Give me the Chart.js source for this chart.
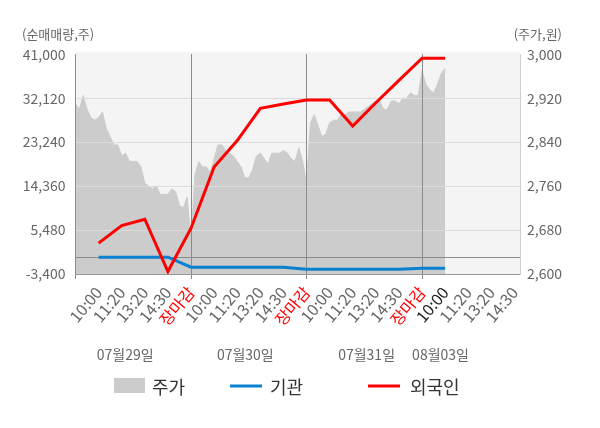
<!DOCTYPE html>
<html><head><meta charset="utf-8">
<script src="https://cdn.jsdelivr.net/npm/chart.js@4/dist/chart.umd.min.js"></script>
<style>html,body{margin:0;padding:0;background:#fff}</style>
</head><body>
<canvas id="c" width="600" height="428"></canvas>
<script>
// ---- data ----
const xTickLabels = ['10:00','11:20','13:20','14:30','장마감','10:00','11:20','13:20','14:30','장마감','10:00','11:20','13:20','14:30','장마감','10:00','11:20','13:20','14:30'];
const dayLabels = ['07월29일','07월30일','07월31일','08월03일'];
const dayLabelSlots = [2.15, 7.35, 12.6, 15.8];
const pricePerSlot = 6;
const priceValues = [
  2910,2900,2925,2900,2885,2880,2885,2895,2865,2850,2835,2835,2815,2820,2805,2805,2805,2795,2765,2760,2755,2760,2745,2745,2745,2755,2750,2725,2720,2740,2660,
  2780,2805,2795,2795,2785,2810,2835,2835,2825,2820,2815,2805,2795,2775,2775,2790,2815,2820,2810,2800,2820,2820,2820,2825,2820,2810,2805,2830,2805,2765,
  2875,2890,2870,2850,2855,2875,2880,2880,2890,2890,2895,2895,2895,2895,2900,2905,2910,2915,2915,2900,2900,2915,2915,2910,2920,2920,2930,2925,2925,
  2970,2945,2935,2930,2945,2965,2975
];
const institutionValues = [0,0,0,0,-2020,-2020,-2020,-2020,-2020,-2420,-2420,-2420,-2420,-2420,-2220,-2220];
const foreignValues = [2830,6380,7670,-2910,5850,18220,23570,30070,30940,31740,31740,26500,31200,35720,40220,40220];
const leftTicks = [-3400,5480,14360,23240,32120,41000];
const rightTicks = [2600,2680,2760,2840,2920,3000];
const legendLabels = ['주가','기관','외국인'];

const FONT = '"Noto Sans CJK KR", "Noto Sans", sans-serif';
Chart.defaults.font.family = FONT;
const GRAY = '#cccccc', BLUE = '#0a80d0', RED = '#ff0000', TXT = '#666666';
const XMAX = 19.24;

const decor = {
  id: 'decor',
  beforeDraw(chart) {
    const {ctx, chartArea: a} = chart;
    ctx.save();
    ctx.fillStyle = '#f4f4f4';
    ctx.fillRect(a.left, a.top - 2.5, a.right - a.left, a.bottom - a.top + 2.5);
    ctx.restore();
  },
  afterDatasetDraw(chart, args) {
    if (args.index === 0) {
      chart.scales.y.drawGrid(chart.chartArea);
      chart.scales.x.drawGrid(chart.chartArea);
    }
  },
  afterDraw(chart) {
    const ctx = chart.ctx;
    ctx.save();
    ctx.font = '13px ' + FONT;
    ctx.fillStyle = TXT;
    ctx.textBaseline = 'middle';
    ctx.textAlign = 'left';
    ctx.fillText('(순매매량,주)', 22, 34);
    ctx.textAlign = 'right';
    ctx.fillText('(주가,원)', 562, 34);
    // legend
    ctx.font = '18px ' + FONT;
    ctx.textAlign = 'left';
    ctx.fillStyle = GRAY;
    ctx.fillRect(114, 378, 31, 15);
    ctx.lineWidth = 3;
    ctx.strokeStyle = BLUE;
    ctx.beginPath(); ctx.moveTo(230, 386); ctx.lineTo(262, 386); ctx.stroke();
    ctx.strokeStyle = RED;
    ctx.beginPath(); ctx.moveTo(368, 386); ctx.lineTo(400, 386); ctx.stroke();
    ctx.fillStyle = '#333';
    ctx.fillText(legendLabels[0], 152, 387);
    ctx.fillText(legendLabels[1], 270, 387);
    ctx.fillText(legendLabels[2], 410, 387);
    ctx.restore();
  }
};

const sepColor = (c) => (c.tick && c.tick.value % 5 === 0) ? '#8c8c8c' : 'rgba(0,0,0,0)';

new Chart(document.getElementById('c'), {
  type: 'line',
  data: {
    datasets: [
      { label: legendLabels[0], data: priceValues.map((v, i) => ({x: i / pricePerSlot, y: v})),
        xAxisID: 'x', yAxisID: 'y2', fill: 'start', backgroundColor: GRAY, borderColor: GRAY,
        borderWidth: 1, pointRadius: 0, tension: 0, order: 3 },
      { label: legendLabels[1], data: institutionValues.map((v, i) => ({x: i + 1, y: v})),
        xAxisID: 'x', yAxisID: 'y', borderColor: BLUE, borderWidth: 3, pointRadius: 0, fill: false, order: 2 },
      { label: legendLabels[2], data: foreignValues.map((v, i) => ({x: i + 1, y: v})),
        xAxisID: 'x', yAxisID: 'y', borderColor: RED, borderWidth: 3, pointRadius: 0, fill: false, order: 1 }
    ]
  },
  options: {
    responsive: false,
    animation: false,
    devicePixelRatio: 1,
    layout: {padding: {top: 54.3, left: 0, right: 0, bottom: 52}},
    plugins: {legend: {display: false}, tooltip: {enabled: false}},
    scales: {
      x: {
        type: 'linear', position: 'bottom', min: 0, max: XMAX,
        afterBuildTicks: s => { s.ticks = [{value: 0}].concat(xTickLabels.map((_, i) => ({value: i + 1}))); },
        afterFit: s => { s.height = 72; s.paddingLeft = 0; s.paddingRight = 0; },
        grid: {color: sepColor, tickColor: sepColor, tickLength: 5, lineWidth: 1},
        border: {color: '#999'},
        ticks: {
          autoSkip: false, minRotation: 50, maxRotation: 50, padding: 4,
          font: {size: 16},
          color: c => {
            const l = xTickLabels[c.tick.value - 1];
            if (l === '장마감') return RED;
            if (c.tick.value === 16) return '#222';
            return TXT;
          },
          callback: v => v >= 1 ? xTickLabels[v - 1] : ''
        }
      },
      xDay: {
        type: 'linear', position: 'bottom', min: 0, max: XMAX,
        afterBuildTicks: s => { s.ticks = dayLabelSlots.map(v => ({value: v})); },
        afterFit: s => { s.height = 30; s.paddingLeft = 0; s.paddingRight = 0; },
        grid: {display: false, drawTicks: false},
        border: {display: false},
        ticks: {autoSkip: false, minRotation: 0, maxRotation: 0, padding: 0, font: {size: 14}, color: TXT,
          callback: (v, i) => dayLabels[i]}
      },
      y: {
        type: 'linear', position: 'left', min: -3400, max: 41000,
        afterBuildTicks: s => { s.ticks = leftTicks.concat([0]).sort((a, b) => a - b).map(v => ({value: v})); },
        afterFit: s => { s.width = 75.5; s.paddingTop = 0; s.paddingBottom = 0; },
        grid: {drawTicks: false, color: c => {
          const v = c.tick.value;
          if (v === 0) return '#8c8c8c';
          if (v === 41000) return 'rgba(0,0,0,0)';
          if (v === -3400) return '#999';
          return '#dcdcdc';
        }},
        border: {color: '#999'},
        ticks: {padding: 10, font: {size: 14}, color: TXT,
          callback: v => v === 0 ? '' : v.toLocaleString('en-US')}
      },
      y2: {
        type: 'linear', position: 'right', min: 2600, max: 3000,
        afterBuildTicks: s => { s.ticks = rightTicks.map(v => ({value: v})); },
        afterFit: s => { s.width = 80; s.paddingTop = 0; s.paddingBottom = 0; },
        grid: {display: false, drawTicks: false},
        border: {color: '#d0d0d0'},
        ticks: {padding: 7, font: {size: 14}, color: TXT,
          callback: v => v.toLocaleString('en-US')}
      }
    }
  },
  plugins: [decor]
});
</script>
</body></html>
